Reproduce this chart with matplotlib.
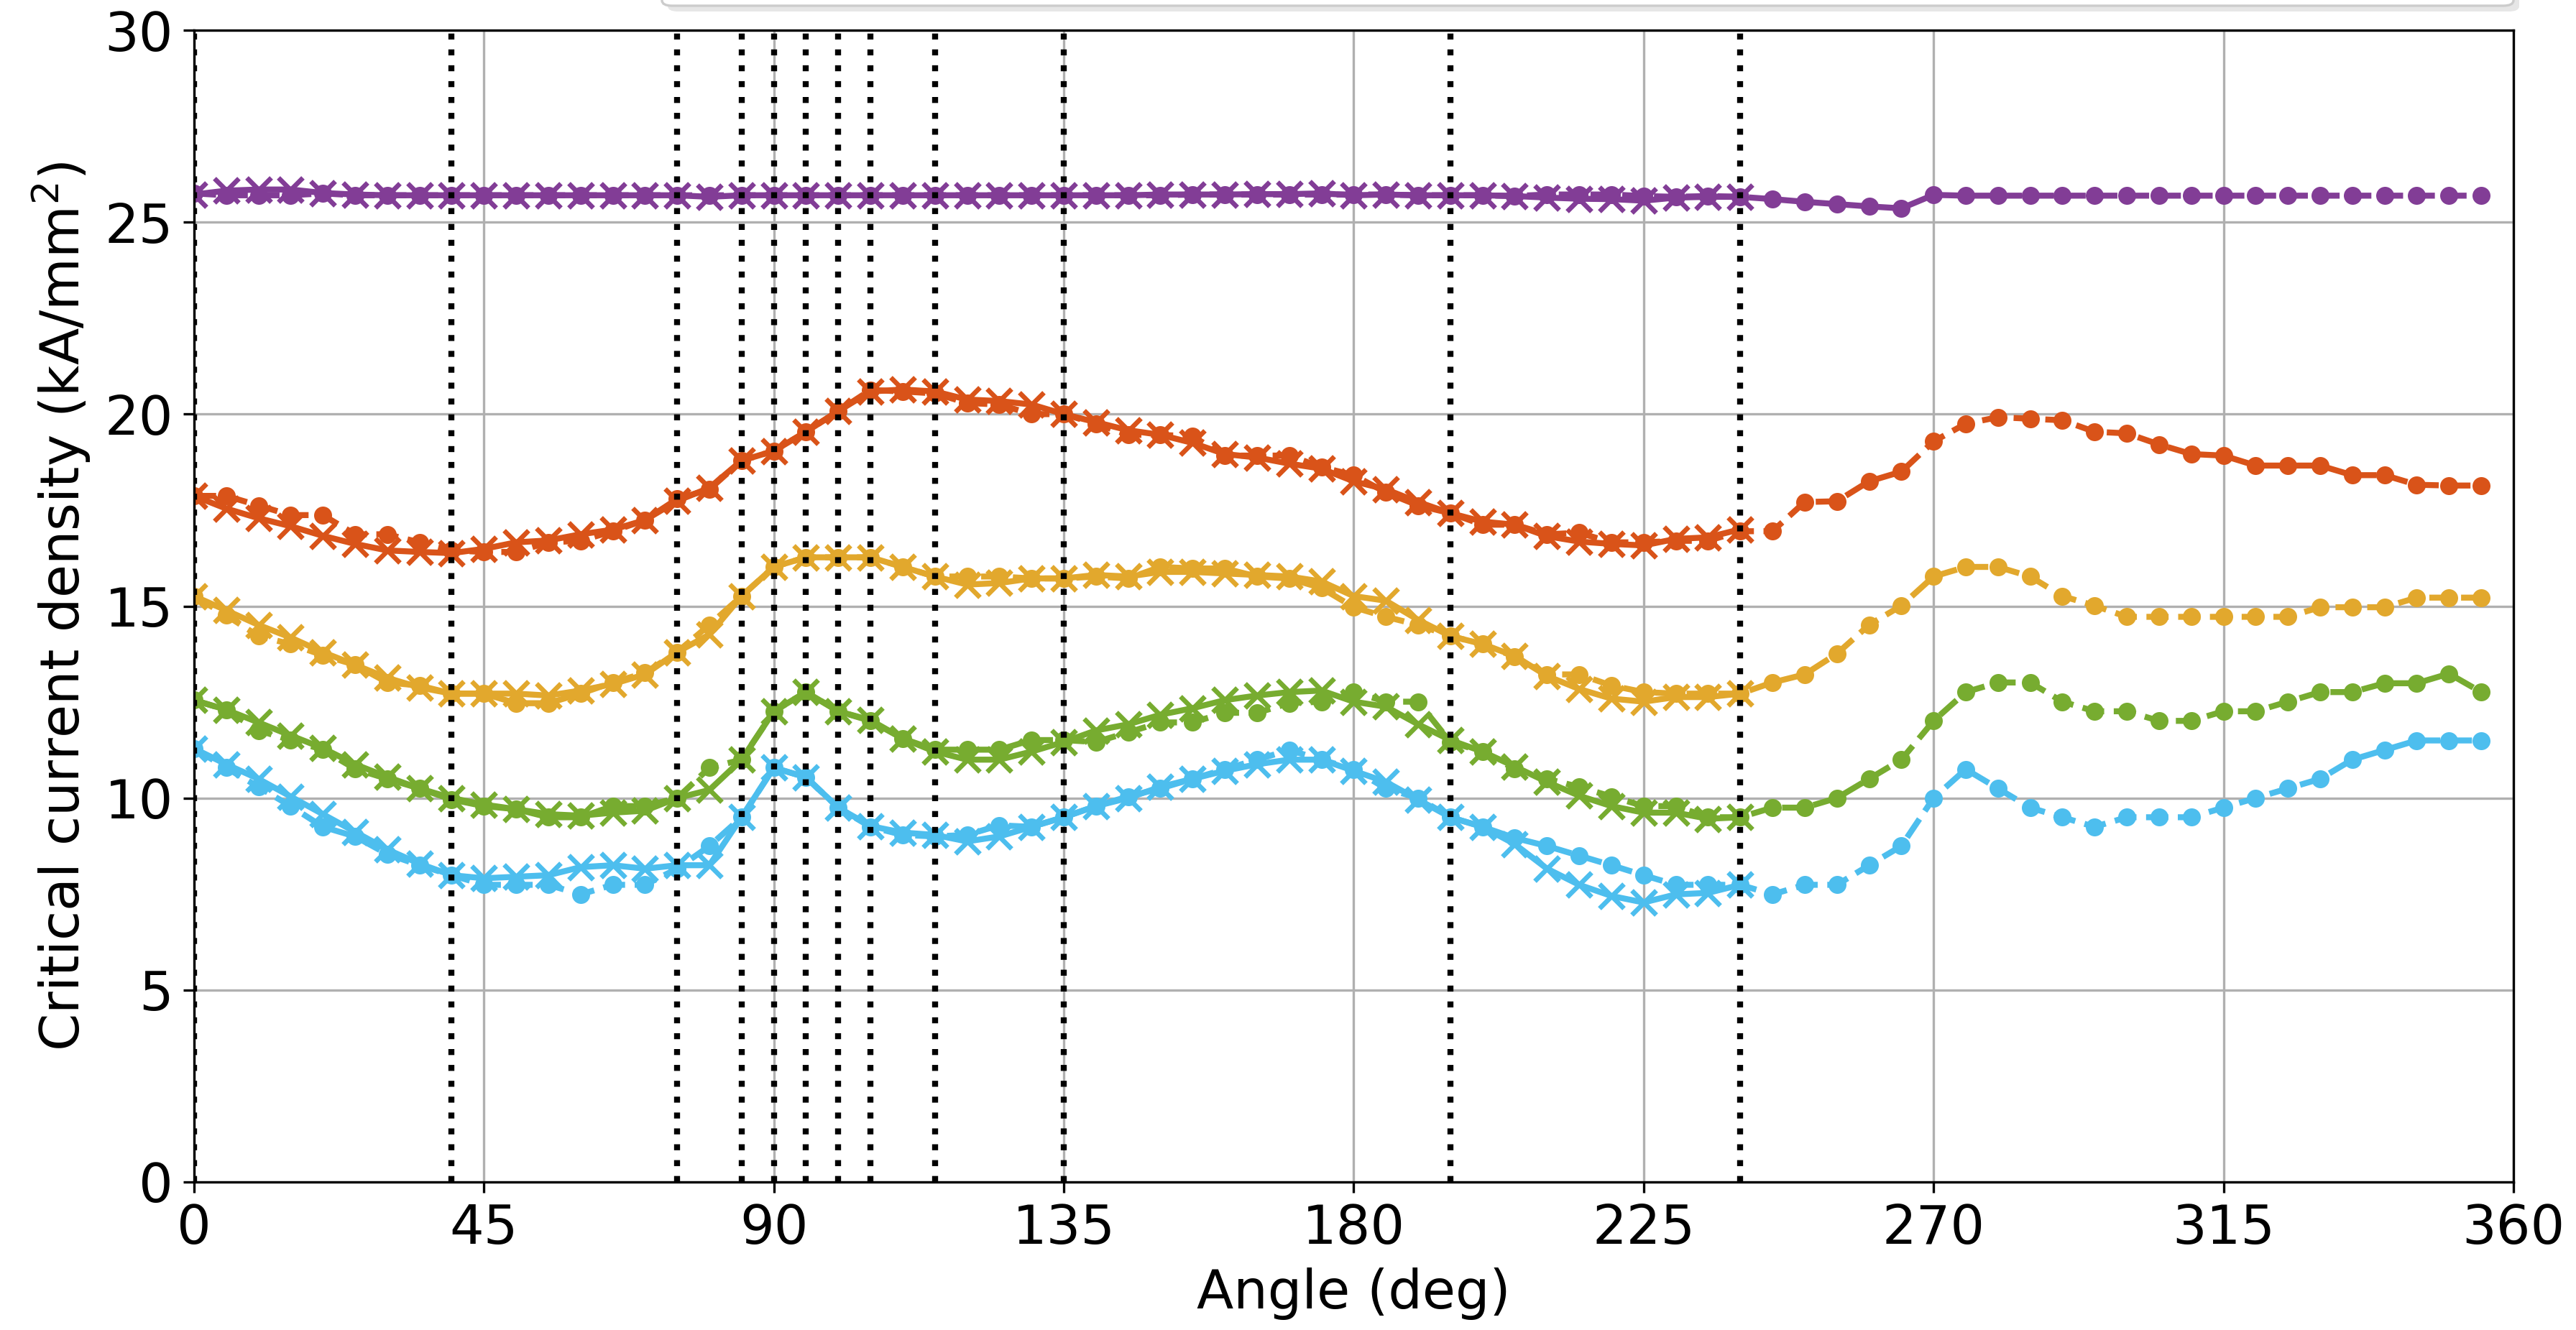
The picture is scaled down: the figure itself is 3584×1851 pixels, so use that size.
import matplotlib
matplotlib.use("Agg")
import matplotlib.pyplot as plt
from matplotlib.patches import FancyBboxPatch

plt.rcParams["font.family"] = ["DejaVu Sans"]
plt.rcParams["font.size"] = 18

# Angles (deg): full rotation scan (dashed) and partial scan (solid)
angles_full = list(range(0, 360, 5))
angles_part = list(range(0, 245, 5))

# Critical current density (kA/mm^2), full scan
jc_purple_full = [25.75, 25.7, 25.7, 25.7, 25.75, 25.7, 25.7, 25.7, 25.7, 25.7,
                  25.7, 25.7, 25.7, 25.7, 25.7, 25.7, 25.7, 25.7, 25.7, 25.7,
                  25.7, 25.7, 25.7, 25.7, 25.7, 25.7, 25.7, 25.7, 25.7, 25.7,
                  25.7, 25.72, 25.72, 25.72, 25.72, 25.72, 25.72, 25.72, 25.7, 25.7,
                  25.7, 25.68, 25.72, 25.72, 25.72, 25.68, 25.66, 25.68, 25.66, 25.6,
                  25.53, 25.47, 25.41, 25.36, 25.71, 25.69, 25.69, 25.69, 25.69, 25.69,
                  25.69, 25.69, 25.69, 25.69, 25.69, 25.69, 25.69, 25.69, 25.69, 25.69,
                  25.69, 25.69]
jc_orange_full = [17.87, 17.87, 17.62, 17.37, 17.37, 16.87, 16.87, 16.66, 16.45, 16.41,
                  16.41, 16.66, 16.70, 16.95, 17.24, 17.79, 18.04, 18.79, 19.04, 19.54,
                  20.08, 20.63, 20.59, 20.54, 20.29, 20.25, 20.0, 20.0, 19.75, 19.46,
                  19.46, 19.42, 18.92, 18.92, 18.92, 18.62, 18.41, 17.96, 17.62, 17.42,
                  17.12, 17.12, 16.87, 16.91, 16.66, 16.66, 16.70, 16.70, 16.95, 16.95,
                  17.71, 17.73, 18.25, 18.5, 19.29, 19.75, 19.92, 19.88, 19.84, 19.54,
                  19.50, 19.21, 18.96, 18.92, 18.66, 18.66, 18.66, 18.41, 18.41, 18.16,
                  18.14, 18.14]
jc_yellow_full = [15.26, 14.76, 14.22, 14.01, 13.72, 13.47, 13.01, 12.93, 12.72, 12.72,
                  12.47, 12.47, 12.72, 13.01, 13.26, 13.80, 14.51, 15.26, 16.02, 16.27,
                  16.27, 16.27, 16.02, 15.77, 15.77, 15.77, 15.72, 15.72, 15.77, 15.72,
                  16.02, 15.98, 15.98, 15.77, 15.72, 15.47, 14.97, 14.72, 14.51, 14.22,
                  14.01, 13.68, 13.22, 13.22, 12.93, 12.76, 12.72, 12.72, 12.72, 13.01,
                  13.22, 13.76, 14.51, 15.01, 15.77, 16.02, 16.02, 15.77, 15.26, 15.01,
                  14.72, 14.72, 14.72, 14.72, 14.72, 14.72, 14.97, 14.97, 14.97, 15.22,
                  15.22, 15.22]
jc_green_full = [12.55, 12.30, 11.76, 11.51, 11.26, 10.76, 10.50, 10.25, 9.96, 9.79,
                 9.71, 9.50, 9.50, 9.79, 9.79, 10.0, 10.79, 11.0, 12.26, 12.76,
                 12.26, 12.01, 11.55, 11.26, 11.26, 11.26, 11.51, 11.51, 11.46, 11.71,
                 11.97, 11.97, 12.22, 12.22, 12.47, 12.51, 12.76, 12.51, 12.51, 11.46,
                 11.21, 10.76, 10.50, 10.29, 10.04, 9.79, 9.79, 9.50, 9.50, 9.75,
                 9.75, 10.0, 10.50, 11.0, 12.01, 12.76, 13.01, 13.01, 12.51, 12.26,
                 12.26, 12.01, 12.01, 12.26, 12.26, 12.51, 12.76, 12.76, 12.99, 12.99,
                 13.24, 12.76]
jc_blue_full = [11.29, 10.79, 10.29, 9.79, 9.25, 9.0, 8.54, 8.25, 7.99, 7.74,
                7.74, 7.74, 7.49, 7.74, 7.74, 8.16, 8.75, 9.50, 10.79, 10.54,
                9.75, 9.25, 9.04, 9.0, 9.04, 9.29, 9.25, 9.50, 9.79, 10.04,
                10.25, 10.50, 10.75, 11.0, 11.25, 11.0, 10.75, 10.25, 10.0, 9.50,
                9.25, 8.96, 8.75, 8.50, 8.25, 7.99, 7.74, 7.74, 7.74, 7.49,
                7.74, 7.74, 8.25, 8.75, 10.0, 10.75, 10.25, 9.75, 9.50, 9.25,
                9.50, 9.50, 9.50, 9.75, 10.0, 10.25, 10.50, 11.0, 11.25, 11.5,
                11.5, 11.5]

# Critical current density (kA/mm^2), partial scan
jc_purple_part = [25.72, 25.82, 25.85, 25.85, 25.76, 25.72, 25.7, 25.7, 25.7, 25.7,
                  25.7, 25.7, 25.7, 25.7, 25.7, 25.7, 25.66, 25.7, 25.7, 25.7,
                  25.7, 25.7, 25.7, 25.7, 25.7, 25.7, 25.7, 25.7, 25.7, 25.7,
                  25.72, 25.72, 25.72, 25.73, 25.73, 25.75, 25.7, 25.72, 25.7, 25.7,
                  25.7, 25.68, 25.64, 25.61, 25.6, 25.56, 25.64, 25.66, 25.66]
jc_orange_part = [17.87, 17.54, 17.29, 17.08, 16.83, 16.62, 16.45, 16.41, 16.38, 16.49,
                  16.66, 16.71, 16.87, 16.99, 17.24, 17.74, 18.08, 18.79, 19.04, 19.54,
                  20.08, 20.59, 20.64, 20.59, 20.38, 20.34, 20.25, 20.0, 19.79, 19.58,
                  19.46, 19.25, 18.96, 18.87, 18.71, 18.58, 18.25, 18.04, 17.71, 17.42,
                  17.2, 17.12, 16.82, 16.68, 16.62, 16.58, 16.75, 16.79, 17.0]
jc_yellow_part = [15.26, 14.89, 14.51, 14.18, 13.80, 13.47, 13.13, 12.88, 12.72, 12.72,
                  12.72, 12.67, 12.80, 12.97, 13.22, 13.80, 14.26, 15.26, 16.02, 16.27,
                  16.27, 16.27, 16.02, 15.77, 15.56, 15.60, 15.72, 15.72, 15.81, 15.77,
                  15.89, 15.89, 15.85, 15.81, 15.77, 15.64, 15.26, 15.14, 14.64, 14.22,
                  14.01, 13.70, 13.18, 12.84, 12.59, 12.51, 12.63, 12.63, 12.72]
jc_green_part = [12.55, 12.30, 11.97, 11.63, 11.30, 10.88, 10.55, 10.25, 10.0, 9.83,
                 9.71, 9.58, 9.54, 9.62, 9.67, 10.0, 10.21, 11.0, 12.26, 12.76,
                 12.26, 12.03, 11.55, 11.21, 11.0, 11.0, 11.21, 11.46, 11.76, 11.92,
                 12.17, 12.34, 12.55, 12.67, 12.76, 12.80, 12.51, 12.38, 11.92, 11.51,
                 11.21, 10.82, 10.42, 10.06, 9.79, 9.62, 9.62, 9.46, 9.50]
jc_blue_part = [11.29, 10.88, 10.50, 10.04, 9.58, 9.12, 8.66, 8.29, 7.99, 7.91,
                7.95, 7.99, 8.20, 8.25, 8.16, 8.25, 8.25, 9.50, 10.79, 10.54,
                9.75, 9.27, 9.10, 9.04, 8.87, 9.0, 9.25, 9.50, 9.79, 10.0,
                10.29, 10.50, 10.71, 10.88, 11.0, 11.0, 10.71, 10.42, 9.96, 9.50,
                9.25, 8.80, 8.16, 7.74, 7.45, 7.28, 7.49, 7.53, 7.74]

# Reference angles marked with dotted lines
ref_angles = [0, 40, 75, 85, 90, 95, 100, 105, 115, 135, 195, 240]

colors = ["#823D96", "#D95319", "#E2A82D", "#77AC30", "#4DBEEE"]
full_sets = [jc_purple_full, jc_orange_full, jc_yellow_full, jc_green_full, jc_blue_full]
part_sets = [jc_purple_part, jc_orange_part, jc_yellow_part, jc_green_part, jc_blue_part]

W, H, DPI = 3584, 1851, 300
fig = plt.figure(figsize=(W / DPI, H / DPI), dpi=DPI)
ax = fig.add_axes([0.0753, 0.1113, 0.9004, 0.866])

for color, full, part in zip(colors, full_sets, part_sets):
    ax.plot(angles_full, full, linestyle="--", marker="o", color=color,
            linewidth=2, markersize=5)
    ax.plot(angles_part, part, linestyle="-", marker="x", color=color,
            linewidth=2, markersize=8, markeredgewidth=1.6)

for a in ref_angles:
    ax.axvline(a, color="black", linestyle=":", linewidth=2, zorder=5)

ax.set_xlim(0, 360)
ax.set_ylim(0, 30)
ax.set_xticks(range(0, 361, 45))
ax.set_yticks(range(0, 31, 5))
ax.grid(True, color="#b0b0b0", linewidth=0.8)
ax.set_axisbelow(True)
ax.set_xlabel("Angle (deg)")
ax.set_ylabel("Critical current density (kA/mm$^2$)")

# Key panel frame running above the plot area (with drop shadow)
x0, x1 = 921 / W, 3497 / W
y_bot = (H - 8) / H
off_x, off_y = 8 / W, 8 / H
shadow = FancyBboxPatch((x0 + off_x, y_bot - off_y), x1 - x0, 0.2,
                        boxstyle="round,pad=0,rounding_size=0.004",
                        transform=fig.transFigure, facecolor="#e6e6e6",
                        edgecolor="none", zorder=1)
frame = FancyBboxPatch((x0, y_bot), x1 - x0, 0.2,
                       boxstyle="round,pad=0,rounding_size=0.004",
                       transform=fig.transFigure, facecolor="white",
                       edgecolor="#cccccc", linewidth=0.8, zorder=2)
fig.patches.extend([shadow, frame])

fig.savefig("out.png", dpi=DPI)
